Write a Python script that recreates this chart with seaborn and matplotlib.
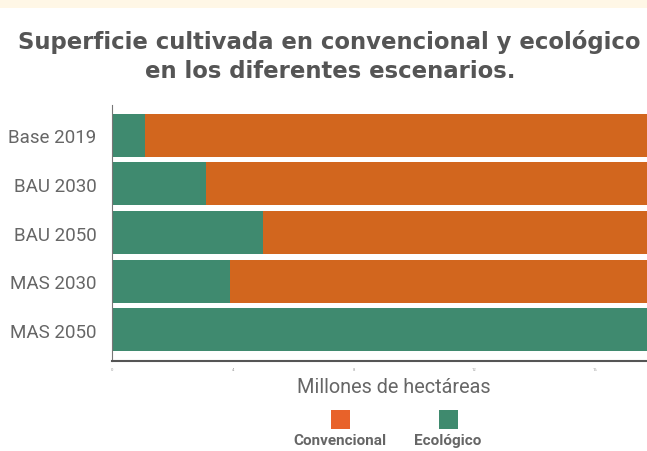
import matplotlib
matplotlib.use("Agg")
import matplotlib.pyplot as plt
import seaborn as sns
import pandas as pd
from matplotlib.patches import Rectangle

escenarios = ["Base 2019", "BAU 2030", "BAU 2050", "MAS 2030", "MAS 2050"]
ecologico = [1.1, 3.1, 5.0, 3.9, 18.0]
convencional = [16.9, 14.9, 13.0, 14.1, 0.0]
xticks = [0, 4, 8, 12, 16]

df = pd.DataFrame({"escenario": escenarios, "eco": ecologico, "conv": convencional})
df["total"] = df["eco"] + df["conv"]

sns.set_theme(style="white")
plt.rcParams["font.family"] = ["Roboto", "DejaVu Sans"]

ORANGE = "#D2661E"
GREEN = "#3F8A6F"
TXT = "#666666"

fig = plt.figure(figsize=(6.47, 4.52), dpi=100)
fig.patch.set_facecolor("white")
fig.add_artist(Rectangle((0, 1 - 9 / 452), 1, 9 / 452, transform=fig.transFigure,
                         facecolor="#FFF7E6", edgecolor="none"))

ax = fig.add_axes([112 / 647, 1 - 362 / 452, 1 - 112 / 647, (362 - 106) / 452])
sns.barplot(data=df, y="escenario", x="total", color=ORANGE, orient="h",
            width=0.88, ax=ax, saturation=1, edgecolor="none")
sns.barplot(data=df, y="escenario", x="eco", color=GREEN, orient="h",
            width=0.88, ax=ax, saturation=1, edgecolor="none")

ax.set_xlim(0, (647 - 112) / 30.2)
ax.set_ylim(4.64, -0.62)
ax.set_xticks(xticks)
ax.set_xticklabels([str(t) for t in xticks], fontsize=3, color="#999999")
ax.tick_params(axis="x", length=2, width=0.8, color="#555555", pad=2)
ax.tick_params(axis="y", labelsize=13.5, labelcolor=TXT, length=0, pad=11)
ax.set_xlabel("")
ax.set_ylabel("")
for s in ["top", "right"]:
    ax.spines[s].set_visible(False)
ax.spines["left"].set_color("#777777")
ax.spines["left"].set_linewidth(0.8)
ax.spines["bottom"].set_color("#555555")
ax.spines["bottom"].set_linewidth(1.5)

fig.text(329 / 647, 1 - 42 / 452, "Superficie cultivada en convencional y ecológico",
         ha="center", va="center", fontsize=16.4, fontweight="bold", color="#555555",
         family=["DejaVu Sans"])
fig.text(330 / 647, 1 - 72 / 452, "en los diferentes escenarios.",
         ha="center", va="center", fontsize=16.4, fontweight="bold", color="#555555",
         family=["DejaVu Sans"])

fig.text(394 / 647, 1 - 388 / 452, "Millones de hectáreas", ha="center", va="center",
         fontsize=14.3, color=TXT)

# legend
for cx, col, lab in [(340, "#E8622A", "Convencional"), (448, "#3F8A6E", "Ecológico")]:
    fig.add_artist(Rectangle(((cx - 9.5) / 647, 1 - 430 / 452), 19 / 647, 19 / 452,
                             transform=fig.transFigure, facecolor=col, edgecolor="none"))
    fig.text(cx / 647, 1 - 441 / 452, lab, ha="center", va="center", fontsize=11,
             fontweight="bold", color=TXT)

fig.savefig("out.png", dpi=100)
